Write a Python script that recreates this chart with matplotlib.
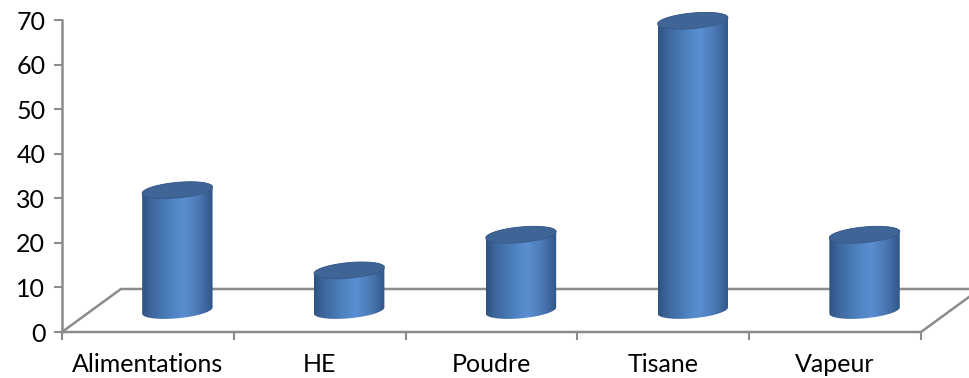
import numpy as np
import matplotlib
matplotlib.use('Agg')
import matplotlib.pyplot as plt
from matplotlib.patches import Polygon
from matplotlib.colors import LinearSegmentedColormap

categories = ['Alimentations', 'HE', 'Poudre', 'Tisane', 'Vapeur']
values = [27, 9, 17, 65, 17]

plt.rcParams['font.family'] = ['Lato', 'DejaVu Sans']

fig = plt.figure(figsize=(9.69, 3.78), dpi=100)
# axes from the value 0 line up to the top of the figure
ax = fig.add_axes([62 / 969, 46 / 378, 907 / 969, 332 / 378])
xmax = 907 / 171.8
ytop = 70 * 332 / 312
ax.set_xlim(0, xmax)
ax.set_ylim(0, ytop)

grey = '#8c8c8c'
# depth of the floor (category units, value units)
ddx, ddy = 0.343, 9.65
n = len(categories)

# floor
floor = [(0, 0), (n, 0), (n + ddx, ddy), (ddx, ddy), (0, 0)]
fx, fy = zip(*floor)
ax.plot(fx, fy, color=grey, lw=1.8, clip_on=False, zorder=1)

body_cmap = LinearSegmentedColormap.from_list('cyl', [
    (0.0, '#2e5283'), (0.12, '#3c659b'), (0.45, '#5186c6'),
    (0.6, '#5a8ed0'), (0.8, '#4a78b4'), (1.0, '#30568a')])

a = 0.205      # radius along x (categories)
b = 1.75       # ellipse half height (values)
c = 0.7        # tilt of the ellipses
t = np.linspace(0, 2 * np.pi, 120)

for i, v in enumerate(values):
    cx = i + 0.5 + ddx / 2
    base = ddy / 2
    top = base + v
    # body outline: left side, front arc of the base, right side, back arc of top
    tf = np.linspace(np.pi, 2 * np.pi, 60)
    tb = np.linspace(0, np.pi, 60)
    xs = np.concatenate([cx + a * np.cos(tf), cx + a * np.cos(tb)])
    ys = np.concatenate([base + b * np.sin(tf) + c * np.cos(tf),
                         top + b * np.sin(tb) + c * np.cos(tb)])
    body = Polygon(np.column_stack([xs, ys]), closed=True, facecolor='none',
                   edgecolor='none', zorder=3)
    ax.add_patch(body)
    grad = np.linspace(0, 1, 256).reshape(1, -1)
    im = ax.imshow(grad, cmap=body_cmap, aspect='auto', zorder=3,
                   extent=[cx - a, cx + a, base - b - c, top + b + c],
                   interpolation='bilinear')
    im.set_clip_path(body)
    # top face
    top_face = Polygon(np.column_stack([cx + a * np.cos(t),
                                        top + b * np.sin(t) + c * np.cos(t)]),
                       closed=True, facecolor='#3e6595', edgecolor='#37598a',
                       lw=0.6, zorder=4)
    ax.add_patch(top_face)

ax.set_xlim(0, xmax)
ax.set_ylim(0, ytop)

for side in ['top', 'right', 'bottom']:
    ax.spines[side].set_visible(False)
ax.spines['left'].set_color(grey)
ax.spines['left'].set_linewidth(1.8)
ax.spines['left'].set_bounds(0, 70)

ax.set_yticks(range(0, 71, 10))
ax.tick_params(axis='y', length=6, width=1.5, color=grey, labelsize=18, pad=6)
ax.set_xticks(np.arange(0, n + 1))
ax.set_xticklabels([])
ax.tick_params(axis='x', length=6, width=1.5, color=grey)
ax.set_xticks(np.arange(n) + 0.5, minor=True)
ax.set_xticklabels(categories, minor=True)
ax.tick_params(axis='x', which='minor', length=0, labelsize=18, pad=15)

fig.savefig('out.png', dpi=100)
